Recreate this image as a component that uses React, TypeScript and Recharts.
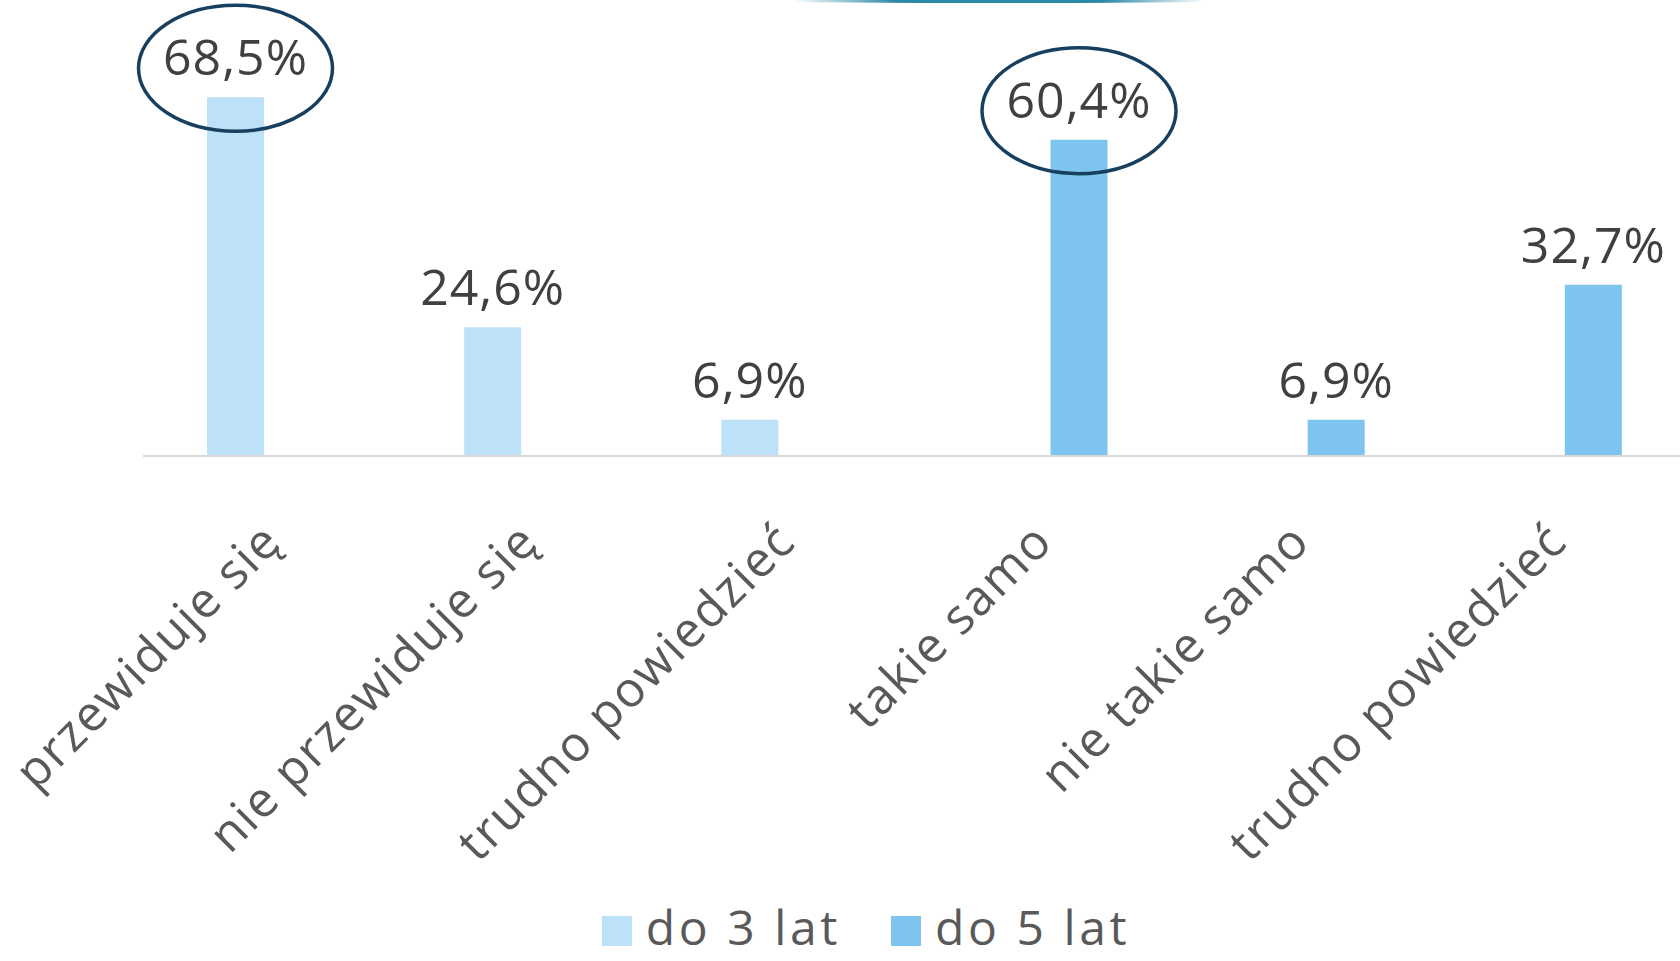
import { BarChart, Bar, XAxis, YAxis, LabelList, Legend } from "recharts";

const categories = [
  "przewiduje się",
  "nie przewiduje się",
  "trudno powiedzieć",
  "takie samo",
  "nie takie samo",
  "trudno powiedzieć",
];
const do3lat = [68.5, 24.6, 6.9, null, null, null];
const do5lat = [null, null, null, 60.4, 6.9, 32.7];
const circled = [true, false, false, true, false, false];

const seriesNames = ["do 3 lat", "do 5 lat"];
const COLORS = ["#bde1f8", "#7dc4ee"];

const data = categories.map((name, i) => ({
  key: `c${i}`,
  name,
  do3: do3lat[i],
  do5: do5lat[i],
  circled: circled[i],
}));

const FONT = "'Open Sans', sans-serif";
const fmt = (v: number) => v.toFixed(1).replace(".", ",") + "%";

const ValueLabel = (props: any) => {
  const { x, y, width, value, index } = props;
  if (value == null) return null;
  const cx = x + width / 2;
  return (
    <g>
      <text
        x={cx}
        y={y - 22}
        textAnchor="middle"
        fontFamily={FONT}
        fontSize={50}
        fill="#404040"
        letterSpacing={1}
      >
        {fmt(value)}
      </text>
      {data[index].circled && (
        <ellipse cx={cx} cy={y - 29} rx={97} ry={63} fill="none" stroke="#173f5f" strokeWidth={3.5} />
      )}
    </g>
  );
};

const Tick = (props: any) => {
  const { x, y, payload, index } = props;
  return (
    <text
      x={x + 12}
      y={y + 80}
      transform={`rotate(-45, ${x + 12}, ${y + 80})`}
      textAnchor="end"
      fontFamily={FONT}
      fontSize={49}
      fill="#595959"
      letterSpacing={1.7}
    >
      {categories[index] ?? payload.value}
    </text>
  );
};

const LegendContent = () => (
  <div
    style={{
      display: "flex",
      justifyContent: "center",
      alignItems: "flex-end",
      boxSizing: "border-box",
      width: 1680,
      height: 61,
      paddingLeft: 52,
      paddingBottom: 2,
      fontFamily: FONT,
      fontSize: 48,
      color: "#595959",
    }}
  >
    {seriesNames.map((n, i) => (
      <div key={n} style={{ display: "flex", alignItems: "flex-start", marginRight: i === 0 ? 50 : 0 }}>
        <div style={{ width: 30, height: 30, background: COLORS[i], marginRight: 14, marginTop: 22 }} />
        <span style={{ letterSpacing: 3.6 }}>{n}</span>
      </div>
    ))}
  </div>
);

export default function App() {
  return (
    <div style={{ position: "absolute", left: 0, top: 0, width: 1680, height: 961, background: "#fff", overflow: "hidden" }}>
      <div
        style={{
          position: "absolute",
          left: 793,
          top: 0,
          width: 412,
          height: 3,
          background: "linear-gradient(to right, rgba(43,135,166,0), #2b87a6 25%, #2b87a6 75%, rgba(43,135,166,0))",
          borderRadius: "0 0 50% 50%",
        }}
      />
      <BarChart
        width={1680}
        height={961}
        data={data}
        margin={{ top: 37, right: -6, left: 143, bottom: 0 }}
        barGap={15}
        barSize={57}
      >
        <YAxis hide domain={[0, 80]} />
        <XAxis
          dataKey="key"
          height={444}
          tick={<Tick />}
          tickLine={false}
          axisLine={{ stroke: "#d9d9d9", strokeWidth: 2 }}
          interval={0}
        />
        <Legend
          verticalAlign="bottom"
          height={61}
          wrapperStyle={{ left: 0, width: 1680 }}
          content={<LegendContent />}
        />
        <Bar dataKey="do3" name={seriesNames[0]} fill={COLORS[0]} isAnimationActive={false}>
          <LabelList dataKey="do3" content={<ValueLabel />} />
        </Bar>
        <Bar dataKey="do5" name={seriesNames[1]} fill={COLORS[1]} isAnimationActive={false}>
          <LabelList dataKey="do5" content={<ValueLabel />} />
        </Bar>
      </BarChart>
    </div>
  );
}
